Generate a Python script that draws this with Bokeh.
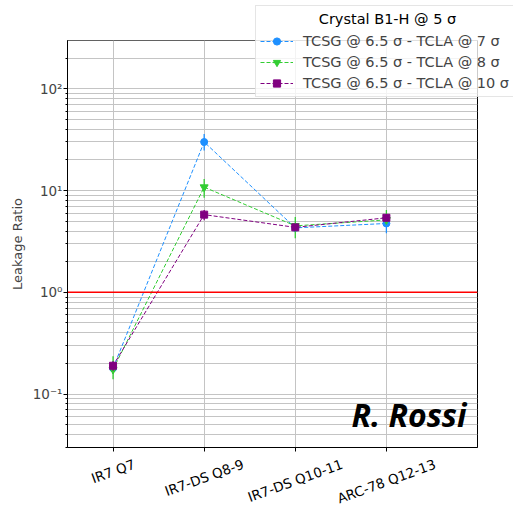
import math
from bokeh.plotting import figure
from bokeh.models import (ColumnDataSource, FixedTicker, CustomJSTickFormatter, Span,
                          Label, LabelSet, Legend, LegendItem, Range1d)
from bokeh.embed import file_html
from bokeh.resources import INLINE
from bokeh.core.properties import value

# ---------------- data ----------------
categories = ["IR7 Q7", "IR7-DS Q8-9", "IR7-DS Q10-11", "ARC-78 Q12-13"]
series_names = ["TCSG @ 6.5 σ - TCLA @ 7 σ",
                "TCSG @ 6.5 σ - TCLA @ 8 σ",
                "TCSG @ 6.5 σ - TCLA @ 10 σ"]
tcla7 = [0.18, 30.0, 4.3, 4.75]
tcla7_lo = [0.16, 24.8, 3.9, 3.8]
tcla7_hi = [0.21, 36.0, 4.8, 5.3]
tcla8 = [0.175, 10.8, 4.5, 5.15]
tcla8_lo = [0.14, 8.5, 3.4, 4.9]
tcla8_hi = [0.235, 13.0, 5.5, 6.45]
tcla10 = [0.19, 5.8, 4.35, 5.4]
tcla10_lo = [0.17, 5.1, 4.0, 4.95]
tcla10_hi = [0.21, 6.45, 4.7, 5.9]
legend_title = "Crystal B1-H @ 5 σ"
y_label = "Leakage Ratio"
y_ticks = [0.1, 1, 10, 100]
reference_level = 1.0
watermark = "R. Rossi"

colors = ["#1E90FF", "#32CD32", "#800080"]
markers = ["circle", "inverted_triangle", "square"]
marker_sizes = [7, 8, 7]
FONT = "DejaVu Sans"
TICK_FS = 13.5

W, H = 513, 508
FL, FR, FT, FB = 67, 36, 40, 61
X0, X1 = -0.5, 4.0

p = figure(width=W, height=H, y_axis_type="log",
           x_range=Range1d(X0, X1), y_range=Range1d(0.0299, 298),
           output_backend="svg", toolbar_location=None,
           min_border_left=FL, min_border_right=FR, min_border_top=FT,
           min_border_bottom=FB)
p.background_fill_color = "white"
p.border_fill_color = "white"
p.outline_line_color = "black"
p.outline_line_width = 1

# axes
minor = [m * 10.0 ** e for e in range(-2, 3) for m in range(2, 10)]
p.yaxis.ticker = FixedTicker(ticks=y_ticks, minor_ticks=minor)
p.yaxis.formatter = CustomJSTickFormatter(code="""
const sup = {'-':'\u207b','0':'\u2070','1':'\u00b9','2':'\u00b2','3':'\u00b3'};
const e = Math.round(Math.log10(tick));
return '10' + String(e).split('').map(c => sup[c]).join('');
""")
p.yaxis.axis_label = y_label
p.yaxis.axis_label_text_font = FONT
p.yaxis.axis_label_text_font_style = "normal"
p.yaxis.axis_label_text_font_size = "13px"
p.yaxis.axis_label_standoff = 5
p.yaxis.major_label_text_font = FONT
p.yaxis.major_label_text_font_size = f"{TICK_FS}px"
p.yaxis.major_label_standoff = 1
p.axis.axis_line_color = "black"
p.axis.major_tick_line_color = "black"
p.axis.minor_tick_line_color = "black"
p.axis.major_tick_out = 4
p.axis.major_tick_in = 0
p.axis.minor_tick_out = 2
p.axis.minor_tick_in = 0

p.xaxis.ticker = FixedTicker(ticks=list(range(len(categories))))
p.xaxis.formatter = CustomJSTickFormatter(code="return ''")
p.xaxis.major_label_text_font_size = "1px"
p.xaxis.minor_tick_line_color = None

p.grid.grid_line_color = "#c4c4c4"
p.grid.grid_line_width = 1
p.ygrid.minor_grid_line_color = "#c4c4c4"
p.ygrid.minor_grid_line_width = 1

# reference line
p.add_layout(Span(location=reference_level, dimension="width",
                  line_color="red", line_width=1.5, level="glyph"))

# series
x = list(range(len(categories)))
series = [(tcla7, tcla7_lo, tcla7_hi), (tcla8, tcla8_lo, tcla8_hi), (tcla10, tcla10_lo, tcla10_hi)]
for (vals, lo, hi), c, m, ms in zip(series, colors, markers, marker_sizes):
    src = ColumnDataSource(dict(x=x, y=vals, lo=lo, hi=hi))
    p.segment(x0="x", y0="lo", x1="x", y1="hi", source=src, line_color=c, line_width=1.3)
    p.line("x", "y", source=src, line_color=c, line_dash="4 2", line_width=1)
    p.scatter("x", "y", source=src, marker=m, size=ms, fill_color=c, line_color=c)

# watermark
p.add_layout(Label(x=399, y=33, x_units="screen", y_units="screen", text=watermark,
                   text_align="right", text_baseline="alphabetic",
                   text_font="Open Sans", text_font_style="bold italic",
                   text_font_size="32px", text_color="black"))


def overlay(xr):
    """Transparent full-canvas figure stacked on top of the main plot."""
    f = figure(width=W, height=H, x_range=xr, y_range=Range1d(0, H),
               output_backend="svg", toolbar_location=None,
               x_axis_location=None, y_axis_location=None, min_border=0)
    f.grid.visible = False
    f.outline_line_color = None
    f.background_fill_alpha = 0
    f.border_fill_alpha = 0
    f.styles = {"position": "absolute", "top": "0px", "left": "0px"}
    return f


# ---------- overlay 1: legend box and category labels (outside the frame) ----------
upx = (X1 - X0) / (W - FL - FR)          # data units per pixel on the x axis
ov = overlay(Range1d(X0 - FL * upx, X1 + FR * upx))
# legend sample renderers: same series, on a y range that keeps them off-canvas
ov.extra_y_ranges = {"hidden": Range1d(1e6, 2e6)}

items = []
for (vals, lo, hi), name, c, m in zip(series, series_names, colors, markers):
    s = ColumnDataSource(dict(x=x, y=vals))
    lr = ov.line("x", "y", source=s, y_range_name="hidden",
                 line_color=c, line_dash="4 2", line_width=1)
    er = ov.scatter("x", "y", source=s, y_range_name="hidden", marker="dash",
                    angle=math.pi / 2, size=14, line_color=c, line_width=1.3)
    sr = ov.scatter("x", "y", source=s, y_range_name="hidden", marker=m, size=7,
                    fill_color=c, line_color=c)
    items.append(LegendItem(label=name, renderers=[lr, er, sr]))

legend = Legend(items=items, location=(255, H - 97), title=" ",
                label_text_font=FONT, label_text_font_size="14.5px",
                title_text_font=FONT, title_text_font_size="14.5px", title_standoff=6,
                glyph_width=33, glyph_height=18, label_height=18, spacing=3,
                padding=4, margin=0, label_standoff=10,
                border_line_color="#cccccc", border_line_width=1,
                background_fill_color="white", background_fill_alpha=0.8)
ov.add_layout(legend)

# rotated category labels, centred under their ticks (matplotlib style)
char_w = {'I': .295, 'R': .695, '7': .636, ' ': .318, 'Q': .787, '-': .361, 'D': .770,
          'S': .635, '8': .636, '9': .636, '1': .636, '0': .636, 'A': .684, 'C': .698,
          '2': .636, '3': .636}
ang = math.radians(20)
offs = []
for s_ in categories:
    w = sum(char_w.get(ch, 0.6) for ch in s_) * TICK_FS
    rot_h = w * math.sin(ang) + 1.16 * TICK_FS * math.cos(ang)
    offs.append(FB - 8.5 - rot_h / 2)
lab_src = ColumnDataSource(dict(x=x, y=offs, text=categories))
ov.add_layout(LabelSet(x="x", y="y", text="text", source=lab_src, x_units="data", y_units="screen",
                       angle=ang, text_align="center", text_baseline="middle",
                       text_font=value(FONT), text_font_size=f"{TICK_FS}px", text_color="black"))

# ---------- overlay 2: centred legend title, drawn above the legend box ----------
ov2 = overlay(Range1d(0, W))
ov2.add_layout(Label(x=387, y=H - 18.5, x_units="screen", y_units="screen", text=legend_title,
                     text_align="center", text_baseline="middle",
                     text_font=FONT, text_font_size="14.5px", text_color="black"))

open("out.html", "w").write(file_html([p, ov, ov2], INLINE))
